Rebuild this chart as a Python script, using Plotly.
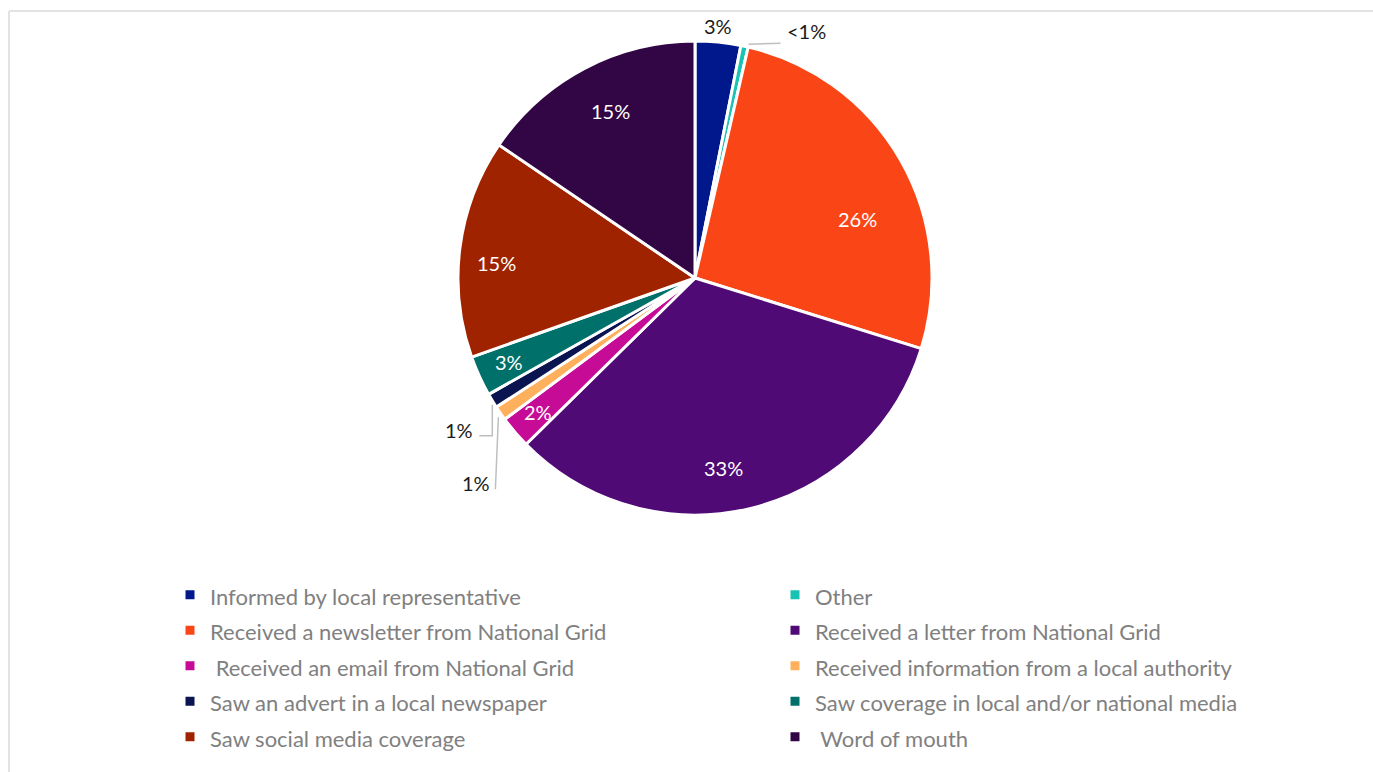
import math
import plotly.graph_objects as go

# Survey answers: how respondents heard about the consultation
categories = [
    "Informed by local representative",
    "Other",
    "Received a newsletter from National Grid",
    "Received a letter from National Grid",
    " Received an email from National Grid",
    "Received information from a local authority",
    "Saw an advert in a local newspaper",
    "Saw coverage in local and/or national media",
    "Saw social media coverage",
    " Word of mouth",
]
shares = [3.1, 0.5, 26.2, 32.8, 2.2, 1.0, 1.0, 2.75, 14.9, 15.5]
share_labels = ["3%", "<1%", "26%", "33%", "2%", "1%", "1%", "3%", "15%", "15%"]
colors = ["#00188c", "#19c3b4", "#fa4616", "#4f0a75", "#c60c96",
          "#ffb05c", "#0a1450", "#00706a", "#a02300", "#320645"]

W, H = 1373, 772
CX, CY, R = 695, 278, 237  # pie centre and radius in pixels
FONT = "Lato, 'Open Sans', sans-serif"
LABEL_SIZE = 20


def px(x):
    return x / W


def py(y):
    return 1 - y / H


# labels drawn inside their slice: (radius fraction, angle nudge in degrees)
inside = {2: (0.73, 10), 3: (0.81, 5), 4: (0.87, 0), 7: (0.86, 0), 8: (0.84, -3), 9: (0.79, 1)}
# slices whose label sits outside the pie: leader line offsets (px) from the slice edge
outside = {0: None, 1: [(4, -2), (36, -3)], 5: [(-2, 4), (-5, 76)], 6: [(0, 4), (0, 35), (-13, 35)]}
label_anchor = {0: (0, -2, "center", "bottom"), 1: (40, -15, "left", "middle"),
                5: (-8, 70, "right", "middle"), 6: (-17, 29, "right", "middle")}

legend_names = [f"<span style='font-size:22px'>{c}</span>" for c in categories]

fig = go.Figure(go.Pie(
    labels=legend_names,
    values=shares,
    textinfo="none",
    marker=dict(colors=colors, line=dict(color="white", width=3)),
    sort=False,
    direction="clockwise",
    rotation=0,
    domain=dict(x=[px(CX - R), px(CX + R)], y=[py(CY + R), py(CY - R)]),
    hoverinfo="label+percent",
))

# value labels and leader lines, placed from the slice mid-angles
total = sum(shares)
cum = 0.0
shapes = []
annotations = []
for i, v in enumerate(shares):
    mid = (cum + v / 2) / total * 2 * math.pi
    cum += v
    if i in inside:
        frac, nudge = inside[i]
        a = mid + math.radians(nudge)
        annotations.append(dict(
            x=px(CX + frac * R * math.sin(a)), y=py(CY - frac * R * math.cos(a)),
            xref="paper", yref="paper", text=share_labels[i], showarrow=False,
            xanchor="center", yanchor="middle",
            font=dict(color="white", size=LABEL_SIZE, family=FONT)))
        continue
    ex = CX + R * math.sin(mid)
    ey = CY - R * math.cos(mid)
    pts = outside[i]
    if pts:
        path = "M " + " L ".join(f"{px(ex + dx)},{py(ey + dy)}" for dx, dy in pts)
        shapes.append(dict(type="path", xref="paper", yref="paper", path=path,
                           line=dict(color="#bfbfbf", width=1.5)))
    dx, dy, xa, ya = label_anchor[i]
    annotations.append(dict(x=px(ex + dx), y=py(ey + dy), xref="paper", yref="paper",
                            text=share_labels[i], showarrow=False, xanchor=xa, yanchor=ya,
                            font=dict(color="#1a1a1a", size=LABEL_SIZE, family=FONT)))

# chart frame (top and left edges)
shapes.append(dict(type="line", xref="paper", yref="paper", x0=px(9), x1=1, y0=py(11), y1=py(11),
                   line=dict(color="#e3e3e3", width=2)))
shapes.append(dict(type="line", xref="paper", yref="paper", x0=px(9), x1=px(9), y0=py(11), y1=0,
                   line=dict(color="#e3e3e3", width=2)))

fig.update_layout(
    width=W, height=H,
    margin=dict(l=0, r=0, t=0, b=0, autoexpand=False),
    paper_bgcolor="white",
    plot_bgcolor="white",
    font=dict(family=FONT, color="#808080"),
    shapes=shapes,
    annotations=annotations,
    legend=dict(
        orientation="h",
        x=px(170), y=py(572), xanchor="left", yanchor="top",
        entrywidth=560, entrywidthmode="pixels",
        font=dict(size=25, color="#808080", family=FONT),
        traceorder="normal",
        valign="middle",
    ),
)

fig.write_html("out.html")
